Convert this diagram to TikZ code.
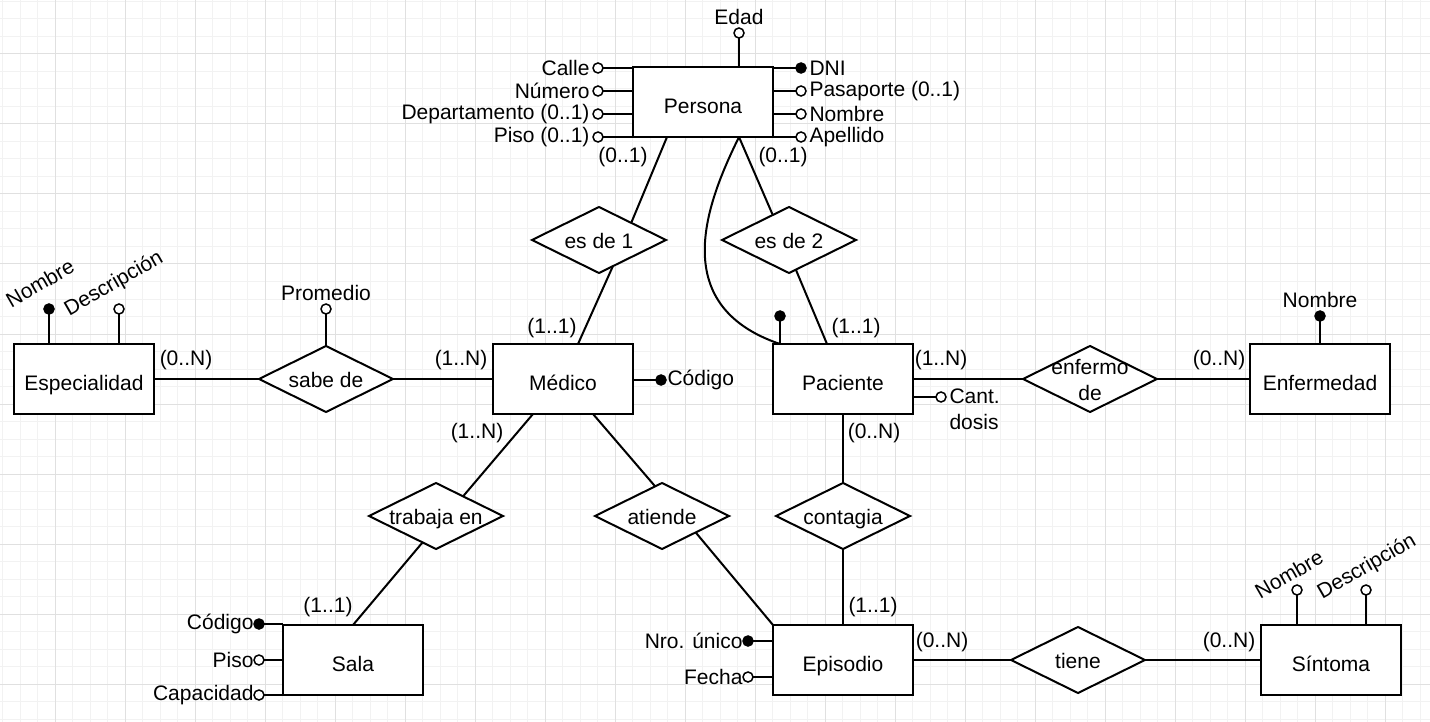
\documentclass[tikz,border=0pt]{standalone}
\usepackage{fontspec}
\setmainfont{Liberation Sans}
\usetikzlibrary{shapes.geometric,positioning}
\definecolor{gridmin}{RGB}{242,242,242}
\definecolor{gridmaj}{RGB}{224,224,224}
\newcommand{\reltxt}[1]{\makebox[0pt]{\begin{tabular}{@{}c@{}}#1\end{tabular}}}

\begin{document}
\begin{tikzpicture}[
    x=1pt, y=-1pt,
    font=\fontsize{21}{26}\selectfont,
    ent/.style={draw,fill=white,line width=2pt,minimum width=140pt,minimum height=70pt,inner sep=0pt,outer sep=0pt,text height=23pt,text depth=0pt},
    rel/.style={diamond,draw,fill=white,line width=2pt,minimum width=134pt,minimum height=66pt,aspect=2,inner sep=0pt,outer sep=0pt,text height=17pt,text depth=0pt},
    attr/.style={circle,draw,fill=white,line width=1.5pt,minimum size=10pt,inner sep=0pt,outer sep=0pt},
    pk/.style={attr,fill=black},
    card/.style={inner sep=0pt},
    link/.style={line width=2pt}
  ]
    % fondo cuadriculado
    \useasboundingbox (0,0) rectangle (1430,722);
    \fill[white] (0,0) rectangle (1430,722);
    \foreach \gx in {2.5,20,...,1430} \draw[gridmin,line width=1pt] (\gx,0) -- (\gx,722);
    \foreach \gy in {1.5,19,...,722} \draw[gridmin,line width=1pt] (0,\gy) -- (1430,\gy);
    \foreach \gx in {55,125,...,1430} \draw[gridmaj,line width=1pt] (\gx,0) -- (\gx,722);
    \foreach \gy in {54,124,...,722} \draw[gridmaj,line width=1pt] (0,\gy) -- (1430,\gy);

    % entidades
    \node[ent] (persona) at (703,102) {Persona};
    \node[ent] (especialidad) at (84,379) {Especialidad};
    \node[ent] (medico) at (563,379) {Médico};
    \node[ent] (paciente) at (843,379) {Paciente};
    \node[ent] (enfermedad) at (1320,379) {Enfermedad};
    \node[ent] (sala) at (353,660) {Sala};
    \node[ent] (episodio) at (843,660) {Episodio};
    \node[ent] (sintoma) at (1331,660) {Síntoma};

    % relaciones
    \node[rel] (esde1) at (599,240) {\reltxt{es de 1}};
    \node[rel] (esde2) at (789,240) {\reltxt{es de 2}};
    \node[rel] (sabede) at (326,379) {\reltxt{sabe de}};
    \node[rel] (enfermode) at (1090,379) {\reltxt{enfermo\\de}};
    \node[rel] (trabaja) at (436,516) {\reltxt{trabaja en}};
    \node[rel] (atiende) at (662,516) {\reltxt{atiende}};
    \node[rel] (contagia) at (843,516) {\reltxt{contagia}};
    \node[rel] (tiene) at (1078,660) {\reltxt{tiene}};

    % atributos de Persona
    \node[attr,label=left:Calle] (calle) at (598,68) {};
    \node[attr,label=left:Número] (numero) at (598,91) {};
    \node[attr,label=left:{Departamento (0..1)}] (depto) at (598,114) {};
    \node[attr,label=left:{Piso (0..1)}] (piso) at (598,137) {};
    \node[pk,label=right:DNI] (dni) at (801,68) {};
    \node[attr,label=right:{Pasaporte (0..1)}] (pasaporte) at (801,91) {};
    \node[attr,label=right:Nombre] (pnombre) at (801,114) {};
    \node[attr,label=right:Apellido] (apellido) at (801,137) {};
    \node[attr,label=above:Edad] (edad) at (739,33) {};
    \foreach \a in {calle,numero,depto,piso}
      \draw[link] (\a) -- (\a -| persona.west);
    \foreach \a in {dni,pasaporte,pnombre,apellido}
      \draw[link] (\a) -- (\a -| persona.east);
    \draw[link] (edad) -- (edad |- persona.north);

    % atributos de Especialidad
    \node[pk] (espnombre) at (49,309) {};
    \node[attr] (espdesc) at (119,309) {};
    \node[rotate=30] (lespnombre) at (40,283) {Nombre};
    \node[rotate=30] (lespdesc) at (114,284) {Descripción};
    \draw[link] (espnombre) -- (espnombre |- especialidad.north);
    \draw[link] (espdesc) -- (espdesc |- especialidad.north);

    % otros atributos
    \node[attr,label=above:Promedio] (promedio) at (326,309) {};
    \draw[link] (promedio) -- (sabede.north);
    \node[pk,label={[label distance=-2pt]right:Código}] (medcod) at (661,380) {};
    \draw[link] (medcod) -- (medcod -| medico.east);
    \node[pk] (pacdot) at (780,316) {};
    \draw[link] (pacdot) -- (pacdot |- paciente.north);
    \node[attr,label={[align=left,yshift=-12pt]right:Cant.\\dosis}] (dosis) at (941,397) {};
    \draw[link] (dosis) -- (dosis -| paciente.east);
    \node[pk,label=above:Nombre] (enfnombre) at (1320,316) {};
    \draw[link] (enfnombre) -- (enfnombre |- enfermedad.north);

    \node[pk,label={[label distance=-3pt]left:Código}] (salacod) at (259,624) {};
    \node[attr,label={[label distance=-3pt]left:Piso}] (salapiso) at (259,660) {};
    \node[attr,label={[label distance=-3pt]left:Capacidad}] (salacap) at (259,695) {};
    \foreach \a in {salacod,salapiso,salacap}
      \draw[link] (\a) -- (\a -| sala.west);

    \node[pk,label={[label distance=-3pt]left:Nro. único}] (nro) at (748,641) {};
    \node[attr,label={[label distance=-3pt]left:Fecha}] (fecha) at (748,677) {};
    \foreach \a in {nro,fecha}
      \draw[link] (\a) -- (\a -| episodio.west);

    \node[attr] (sinnombre) at (1297,590) {};
    \node[attr] (sindesc) at (1366,590) {};
    \node[rotate=30] (lsinnombre) at (1289,574) {Nombre};
    \node[rotate=30] (lsindesc) at (1367,567) {Descripción};
    \draw[link] (sinnombre) -- (sinnombre |- sintoma.north);
    \draw[link] (sindesc) -- (sindesc |- sintoma.north);

    % conexiones
    \draw[link] ([xshift=-36pt]persona.south) -- (esde1.28);
    \draw[link] (esde1.-62) -- ([xshift=15pt]medico.north);
    \draw[link] ([xshift=36pt]persona.south) -- (esde2.123);
    \draw[link] (esde2.-77) -- ([xshift=-16pt]paciente.north);
    \draw[link] ([xshift=36pt]persona.south) .. controls (708,200) and (665,305) .. ([xshift=-63pt]paciente.north);
    \draw[link] (especialidad) -- (sabede);
    \draw[link] (sabede) -- (medico);
    \draw[link] (paciente) -- (enfermode);
    \draw[link] (enfermode) -- (enfermedad);
    \draw[link] ([xshift=-30pt]medico.south) -- (trabaja.36);
    \draw[link] (trabaja.-117) -- (sala.north);
    \draw[link] ([xshift=30pt]medico.south) -- (atiende.103);
    \draw[link] (atiende.-26) -- (episodio.north west);
    \draw[link] (paciente) -- (contagia);
    \draw[link] (contagia) -- (episodio);
    \draw[link] (episodio) -- (tiene);
    \draw[link] (tiene) -- (sintoma);

    % cardinalidades
    \node[card] (c1) at (623,157) {(0..1)};
    \node[card] (c2) at (783,157) {(0..1)};
    \node[card] (c3) at (186,360) {(0..N)};
    \node[card] (c4) at (461,360) {(1..N)};
    \node[card] (c5) at (552,328) {(1..1)};
    \node[card] (c6) at (856,328) {(1..1)};
    \node[card] (c7) at (941,360) {(1..N)};
    \node[card] (c8) at (1219,360) {(0..N)};
    \node[card] (c9) at (477,433) {(1..N)};
    \node[card] (c10) at (874,433) {(0..N)};
    \node[card] (c11) at (328,607) {(1..1)};
    \node[card] (c12) at (873,607) {(1..1)};
    \node[card] (c13) at (942,642) {(0..N)};
    \node[card] (c14) at (1229,642) {(0..N)};
  \end{tikzpicture}
\end{document}
